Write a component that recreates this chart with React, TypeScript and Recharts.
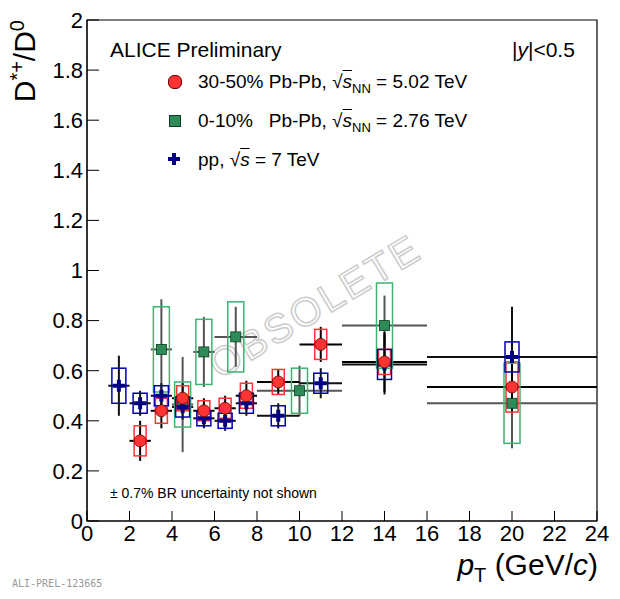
import React from 'react';
import { ScatterChart, Scatter, XAxis, YAxis, ErrorBar, Customized, ReferenceArea } from 'recharts';

// D*+/D0 ratio vs pT
const pbpb502X = [2.5, 3.5, 4.5, 5.5, 6.5, 7.5, 9, 11, 14, 20];
const pbpb502Xerr = [0.5, 0.5, 0.5, 0.5, 0.5, 0.5, 1, 1, 2, 4];
const pbpb502Y = [0.32, 0.44, 0.49, 0.44, 0.45, 0.5, 0.555, 0.705, 0.635, 0.535];
const pbpb502Stat = [0.08, 0.07, 0.06, 0.05, 0.05, 0.06, 0.05, 0.07, 0.12, 0.1];
const pbpb502Sys = [0.06, 0.05, 0.05, 0.04, 0.04, 0.05, 0.05, 0.06, 0.05, 0.1];

const pbpb276X = [3.5, 4.5, 5.5, 7, 10, 14, 20];
const pbpb276Xerr = [0.5, 0.5, 0.5, 1, 2, 2, 4];
const pbpb276Y = [0.685, 0.465, 0.675, 0.735, 0.52, 0.78, 0.47];
const pbpb276Stat = [0.2, 0.19, 0.14, 0.12, 0.1, 0.12, 0.18];
const pbpb276Sys = [0.17, 0.09, 0.13, 0.14, 0.09, 0.17, 0.16];

const ppX = [1.5, 2.5, 3.5, 4.5, 5.5, 6.5, 7.5, 9, 11, 14, 20];
const ppXerr = [0.5, 0.5, 0.5, 0.5, 0.5, 0.5, 0.5, 1, 1, 2, 4];
const ppY = [0.54, 0.47, 0.5, 0.455, 0.41, 0.4, 0.47, 0.42, 0.55, 0.625, 0.655];
const ppStat = [0.12, 0.05, 0.05, 0.05, 0.04, 0.04, 0.05, 0.05, 0.06, 0.12, 0.2];
const ppSys = [0.07, 0.04, 0.04, 0.04, 0.03, 0.03, 0.04, 0.04, 0.04, 0.06, 0.06];

const xTicks = [0, 2, 4, 6, 8, 10, 12, 14, 16, 18, 20, 22, 24];
const yTicks = [0, 0.2, 0.4, 0.6, 0.8, 1, 1.2, 1.4, 1.6, 1.8, 2];

const build = (xs: number[], xe: number[], ys: number[], st: number[], sy: number[]) =>
  xs.map((x, i) => ({ x, y: ys[i], xe: xe[i], ye: st[i], sys: sy[i] }));

const red = build(pbpb502X, pbpb502Xerr, pbpb502Y, pbpb502Stat, pbpb502Sys);
const green = build(pbpb276X, pbpb276Xerr, pbpb276Y, pbpb276Stat, pbpb276Sys);
const pp = build(ppX, ppXerr, ppY, ppStat, ppSys);

const W = 620, H = 599;
const M = { top: 20, right: 23, bottom: 48, left: 0 };
const YW = 87;
const plotH = 501;
const pxPerY = plotH / 2;
const font = 'Liberation Sans, Arial, sans-serif';

const boxShape = (color: string, halfW: number) => (p: any) => {
  const h = p.payload.sys * pxPerY;
  return <rect x={p.cx - halfW} y={p.cy - h} width={halfW * 2} height={h * 2} fill="none" stroke={color} strokeWidth={1.5} />;
};

const Circle = (p: any) => <circle cx={p.cx} cy={p.cy} r={6} fill="#ff3333" stroke="#660000" strokeWidth={0.8} />;
const Square = (p: any) => <rect x={p.cx - 5} y={p.cy - 5} width={10} height={10} fill="#2e8b57" stroke="#0b3d20" strokeWidth={0.8} />;
const Cross = (p: any) => (
  <path d={`M${p.cx - 2},${p.cy - 6}h4v4h4v4h-4v4h-4v-4h-4v-4h4z`} fill="#000080" />
);

const Watermark = () => (
  <text x={322} y={318} transform="rotate(-31 322 318)" textAnchor="middle" fontFamily={font}
    fontSize={40} fill="none" stroke="#cccccc" strokeWidth={1.5} letterSpacing={3}>OBSOLETE</text>
);

export default function App() {
  return (
    <div style={{ position: 'relative', width: W, height: H, margin: -8, fontFamily: font, background: '#fff', overflow: 'hidden' }}>
      <ScatterChart width={W} height={H} margin={M}>
        <Customized component={Watermark} />
        <XAxis type="number" dataKey="x" domain={[0, 24]} ticks={xTicks} interval={0} stroke="#000" height={30}
          tickSize={-10} tick={{ fill: '#000', fontSize: 22, fontFamily: font, dy: 12 }} />
        <YAxis type="number" dataKey="y" domain={[0, 2]} ticks={yTicks} interval={0} width={YW} stroke="#000"
          tickSize={-12} tickFormatter={(v: number) => String(v)} tick={{ fill: '#000', fontSize: 22, fontFamily: font, dx: -14 }} />
        <ReferenceArea x1={0} x2={24} y1={0} y2={2} fill="none" fillOpacity={0} stroke="#000" strokeWidth={1.2} ifOverflow="visible" />
        <Scatter data={red} shape={boxShape('#ff3333', 6)} isAnimationActive={false} />
        <Scatter data={green} shape={boxShape('#3cb371', 8)} isAnimationActive={false} />
        <Scatter data={pp} shape={boxShape('#0000aa', 7)} isAnimationActive={false} />
        <Scatter data={green} shape={Square} isAnimationActive={false}>
          <ErrorBar dataKey="xe" direction="x" width={0} stroke="#555" strokeWidth={2} />
          <ErrorBar dataKey="ye" direction="y" width={0} stroke="#555" strokeWidth={2} />
        </Scatter>
        <Scatter data={pp} shape={Cross} isAnimationActive={false}>
          <ErrorBar dataKey="xe" direction="x" width={0} stroke="#111" strokeWidth={2} />
          <ErrorBar dataKey="ye" direction="y" width={0} stroke="#111" strokeWidth={2} />
        </Scatter>
        <Scatter data={red} shape={Circle} isAnimationActive={false}>
          <ErrorBar dataKey="xe" direction="x" width={0} stroke="#000" strokeWidth={2} />
          <ErrorBar dataKey="ye" direction="y" width={0} stroke="#000" strokeWidth={2} />
        </Scatter>
      </ScatterChart>
      <div style={{ position: 'absolute', left: 6, top: 20, fontSize: 30, transform: 'rotate(-90deg) translate(-100%,0)', transformOrigin: 'top left', whiteSpace: 'nowrap' }}>
        D<sup style={{ fontSize: 20 }}>*+</sup>/D<sup style={{ fontSize: 20 }}>0</sup>
      </div>
      <div style={{ position: 'absolute', right: 22, top: 548, fontSize: 30, whiteSpace: 'nowrap' }}>
        <i>p</i><sub style={{ fontSize: 20 }}>T</sub> (GeV/<i>c</i>)
      </div>
      <div style={{ position: 'absolute', left: 110, top: 38, fontSize: 21 }}>ALICE Preliminary</div>
      <div style={{ position: 'absolute', left: 512, top: 38, fontSize: 21 }}>|<i>y</i>|&lt;0.5</div>
      <div style={{ position: 'absolute', left: 198, top: 66, fontSize: 19, lineHeight: '32px', whiteSpace: 'nowrap' }}>
        <div style={{ position: 'relative' }}>
          <span style={{ position: 'absolute', left: -30, top: 9, width: 12, height: 12, borderRadius: 6, background: '#ff3333', border: '0.8px solid #600' }} />
          30-50% Pb-Pb, √<span style={{ textDecoration: 'overline' }}><i>s</i></span><sub style={{ fontSize: 13 }}>NN</sub> = 5.02 TeV
        </div>
        <div style={{ position: 'relative' }}>
          <span style={{ position: 'absolute', left: -29, top: 10, width: 10, height: 10, background: '#2e8b57', border: '0.8px solid #0b3d20' }} />
          0-10%&nbsp;&nbsp; Pb-Pb, √<span style={{ textDecoration: 'overline' }}><i>s</i></span><sub style={{ fontSize: 13 }}>NN</sub> = 2.76 TeV
        </div>
        <div style={{ position: 'relative' }}>
          <span style={{ position: 'absolute', left: -30, top: 13, width: 12, height: 4, background: '#000080' }} />
          <span style={{ position: 'absolute', left: -26, top: 9, width: 4, height: 12, background: '#000080' }} />
          pp, √<span style={{ textDecoration: 'overline' }}><i>s</i></span> = 7 TeV
        </div>
      </div>
      <div style={{ position: 'absolute', left: 12, top: 578, fontSize: 10, fontFamily: 'DejaVu Sans Mono, monospace', color: '#999' }}>ALI-PREL-123665</div>
      <div style={{ position: 'absolute', left: 110, top: 485, fontSize: 14 }}>± 0.7% BR uncertainty not shown</div>
    </div>
  );
}
